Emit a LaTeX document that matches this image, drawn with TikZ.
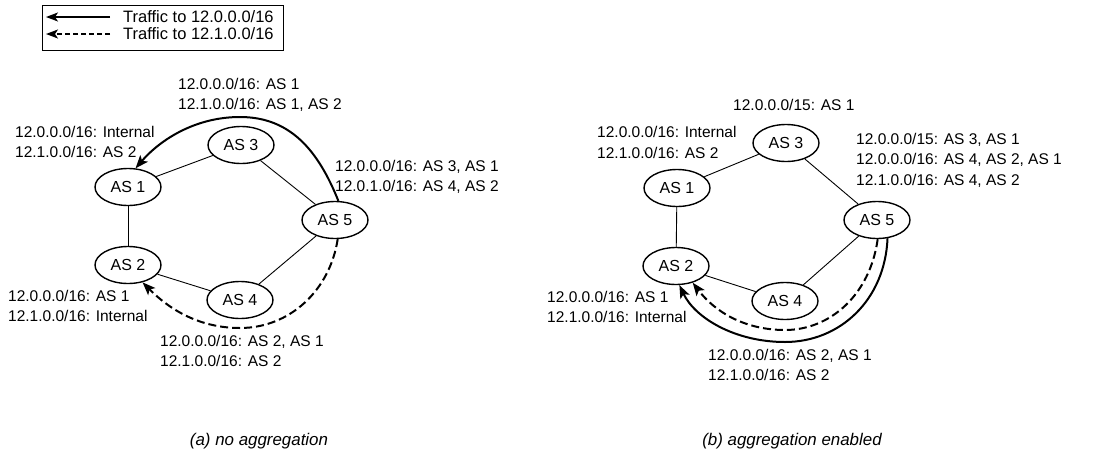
\documentclass[tikz,border=0pt]{standalone}
\usepackage{fontspec}
\setmainfont{Liberation Sans}
\usetikzlibrary{shapes.geometric,arrows.meta}
\begin{document}
\begin{tikzpicture}[x=1pt,y=-1pt,
  asnode/.style={ellipse,draw,line width=1.4pt,minimum width=66pt,minimum height=37pt,inner sep=0pt,font=\fontsize{16}{19}\selectfont},
  lbl/.style={anchor=west,align=left,inner sep=0pt,font=\fontsize{15.5}{20.5}\selectfont},
  leg/.style={anchor=west,inner sep=0pt,font=\fontsize{16.5}{19}\selectfont},
  captext/.style={inner sep=0pt,font=\fontsize{16.9}{20}\selectfont\itshape},
  link/.style={line width=0.9pt},
  route/.style={line width=2pt,-{Stealth[length=13pt,width=10pt,inset=3pt]}},
  dashroute/.style={route,dash pattern=on 8pt off 4pt},
  legroute/.style={line width=1.6pt,-{Stealth[length=12pt,width=9pt,inset=3pt]}},
  legdash/.style={legroute,dash pattern=on 5pt off 3pt}]
\useasboundingbox (0,0) rectangle (1111,453);
% legend
\draw[line width=0.9pt] (42,5) rectangle (283,50);
\coordinate (ls1) at (110,17); \coordinate (le1) at (46,17);
\coordinate (ls2) at (110,34); \coordinate (le2) at (46,34);
\draw[legroute] (ls1) -- (le1);
\draw[legdash] (ls2) -- (le2);
\node[leg] (lt1) at (123,17) {Traffic to 12.0.0.0/16};
\node[leg] (lt2) at (123,34) {Traffic to 12.1.0.0/16};

% ---------- panel (a)
\node[asnode] (a1) at (128,187) {AS 1};
\node[asnode] (a2) at (128,265) {AS 2};
\node[asnode] (a3) at (241,145) {AS 3};
\node[asnode] (a4) at (240,300) {AS 4};
\node[asnode] (a5) at (335,220) {AS 5};
\draw[link] (a1) -- (a3);
\draw[link] (a3) -- (a5);
\draw[link] (a1) -- (a2);
\draw[link] (a2) -- (a4);
\draw[link] (a4) -- (a5);
\draw[route] (a5.80) .. controls (318,150) and (290,117) .. (240,117)
   .. controls (195,117) and (160,140) .. (a1.68);
\draw[dashroute] (a5.-82) .. controls (330,290) and (290,328) .. (240,328)
   .. controls (200,328) and (170,310) .. (a2.-50);
\node[lbl] (la1) at (178,95) {12.0.0.0/16: AS 1\\12.1.0.0/16: AS 1, AS 2};
\node[lbl] (la2) at (15,142) {12.0.0.0/16: Internal\\12.1.0.0/16: AS 2};
\node[lbl] (la3) at (335,177) {12.0.0.0/16: AS 3, AS 1\\12.0.1.0/16: AS 4, AS 2};
\node[lbl] (la4) at (8,306) {12.0.0.0/16: AS 1\\12.1.0.0/16: Internal};
\node[lbl] (la5) at (160,351) {12.0.0.0/16: AS 2, AS 1\\12.1.0.0/16: AS 2};
\node[captext] (capa) at (259,441) {(a) no aggregation};

% ---------- panel (b)
\node[asnode] (b1) at (677,188) {AS 1};
\node[asnode] (b2) at (676,266) {AS 2};
\node[asnode] (b3) at (786,143) {AS 3};
\node[asnode] (b4) at (785,301) {AS 4};
\node[asnode] (b5) at (877,220) {AS 5};
\draw[link] (b1) -- (b3);
\draw[link] (b3) -- (b5);
\draw[link] (b1) -- (b2);
\draw[link] (b2) -- (b4);
\draw[link] (b4) -- (b5);
\draw[dashroute] (b5.-88) .. controls (870,295) and (830,330) .. (785,330)
   .. controls (745,330) and (715,312) .. (b2.-45);
\draw[route] (b5.-60) .. controls (885,300) and (840,342) .. (785,342)
   .. controls (735,342) and (695,318) .. (b2.-80);
\node[lbl] (lb1) at (733,105) {12.0.0.0/15: AS 1};
\node[lbl] (lb2) at (597,142.5) {12.0.0.0/16: Internal\\12.1.0.0/16: AS 2};
\node[lbl] (lb3) at (856,160) {12.0.0.0/15: AS 3, AS 1\\12.0.0.0/16: AS 4, AS 2, AS 1\\12.1.0.0/16: AS 4, AS 2};
\node[lbl] (lb4) at (547,307) {12.0.0.0/16: AS 1\\12.1.0.0/16: Internal};
\node[lbl] (lb5) at (708,365) {12.0.0.0/16: AS 2, AS 1\\12.1.0.0/16: AS 2};
\node[captext] (capb) at (792,441) {(b) aggregation enabled};
\end{tikzpicture}
\end{document}
